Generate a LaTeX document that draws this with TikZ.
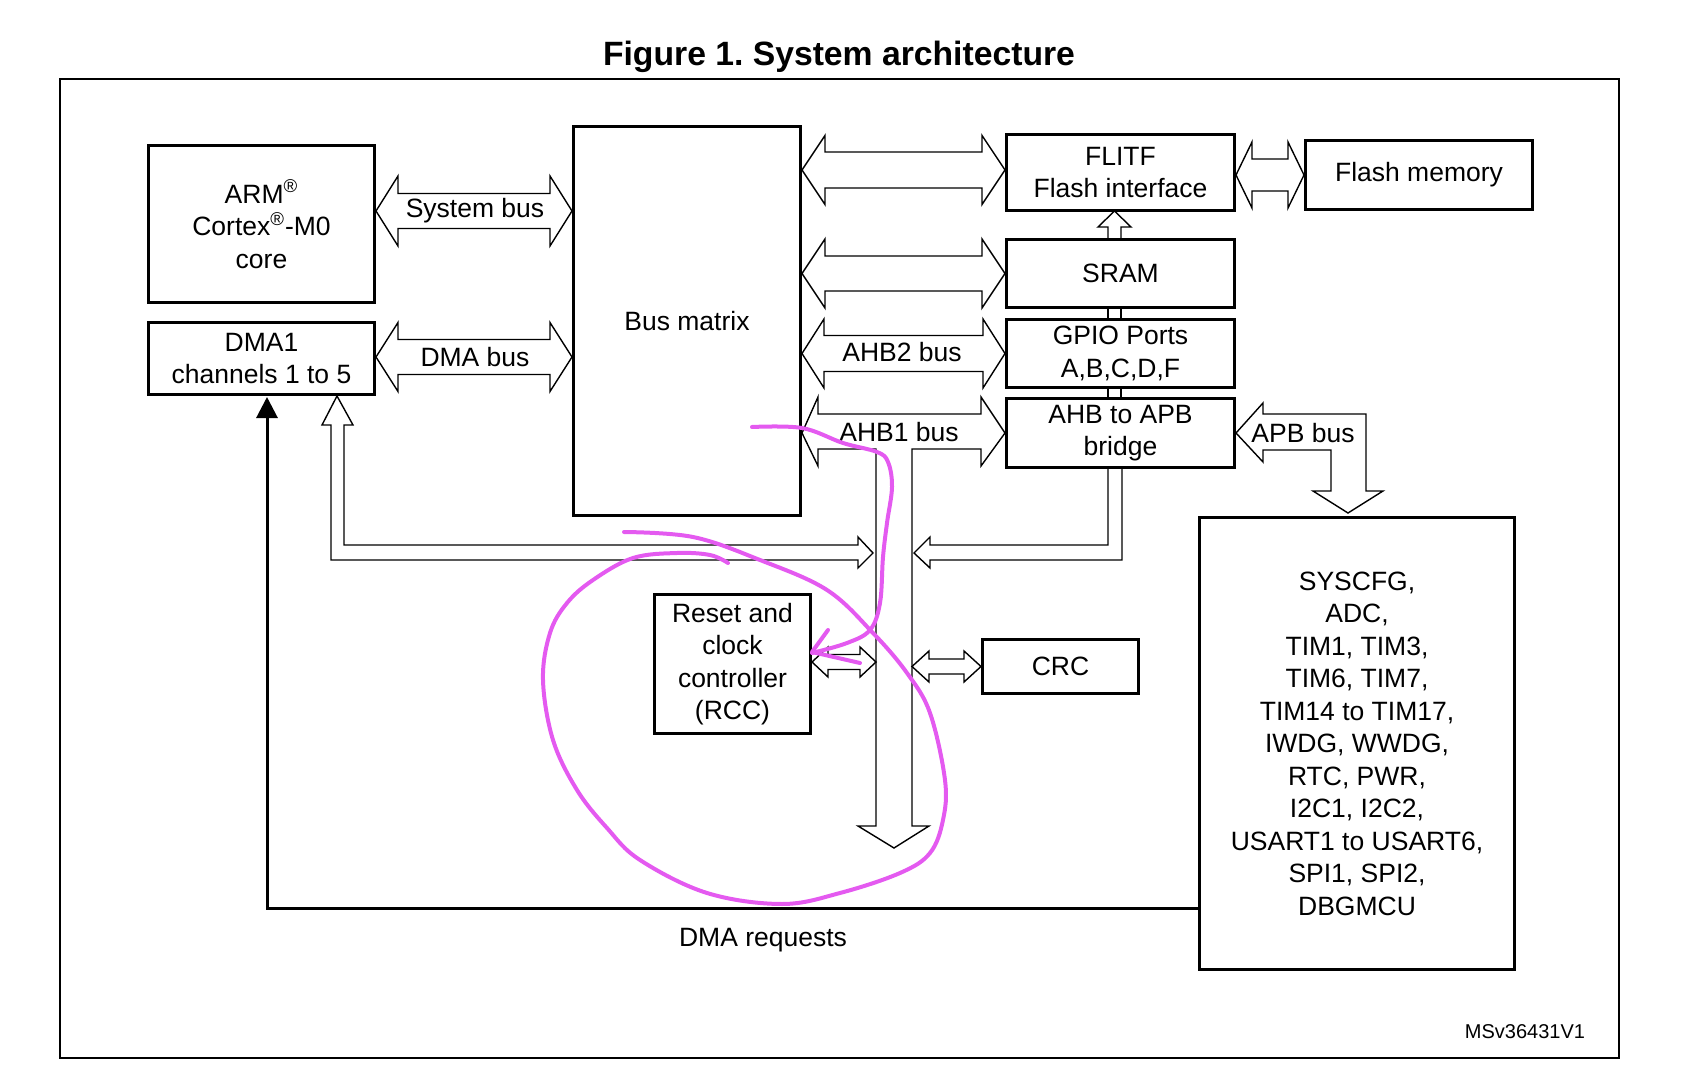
\documentclass[tikz,border=0pt]{standalone}
\usepackage{fontspec}
\setmainfont{Liberation Sans}
\usetikzlibrary{calc,arrows.meta}
\definecolor{annot}{RGB}{228,90,240}
\frenchspacing
\newcommand{\mainfs}{\fontsize{13.25pt}{16.25pt}\selectfont}
\newcommand{\bx}[6]{\node[box, anchor=north west, minimum width={(#4-#2)*0.5pt}, minimum height={(#5-#3)*0.5pt}] (#1) at (#2,#3) {#6};}
\newcommand{\hbus}[5]{%
 \draw[bus] let \p1=(#1), \p2=(#2) in
 (\p1) -- ({\x1+#5*0.5pt},{\y1+#4*0.5pt}) -- ({\x1+#5*0.5pt},{\y1+#3*0.5pt})
 -- ({\x2-#5*0.5pt},{\y1+#3*0.5pt}) -- ({\x2-#5*0.5pt},{\y1+#4*0.5pt}) -- (\x2,\y1)
 -- ({\x2-#5*0.5pt},{\y1-#4*0.5pt}) -- ({\x2-#5*0.5pt},{\y1-#3*0.5pt})
 -- ({\x1+#5*0.5pt},{\y1-#3*0.5pt}) -- ({\x1+#5*0.5pt},{\y1-#4*0.5pt}) -- cycle;}
\begin{document}
\begin{tikzpicture}[x=0.5pt,y=-0.5pt,
  box/.style={draw, line width=1.5pt, align=center, inner sep=0pt, font=\mainfs},
  bus/.style={draw, line width=0.7pt, line join=miter},
  lbl/.style={font=\mainfs, inner sep=0pt},
  req/.style={draw, line width=1.5pt},
  annotline/.style={draw=annot, line width=2pt, line cap=round, line join=round}]
\useasboundingbox (0,0) rectangle (1694,1086);
% title and frame
\node[font=\bfseries\fontsize{16.85pt}{20pt}\selectfont, inner sep=0pt] (title) at (839,57) {Figure 1. System architecture};
\draw[line width=0.8pt] (60,79) rectangle (1619,1058);
% boxes
\bx{arm}{147}{144}{373}{301}{ARM\textsuperscript{®}\\Cortex\textsuperscript{®}-M0\\core}
\bx{dma}{147}{321}{373}{393}{DMA1\\channels 1 to 5}
\bx{bm}{572}{125}{799}{514}{Bus matrix}
\bx{flitf}{1005}{133}{1233}{209}{FLITF\\Flash interface}
\bx{sram}{1005}{238}{1233}{306}{SRAM}
\bx{gpio}{1005}{318}{1233}{386}{GPIO Ports\\A,B,C,D,F}
\bx{bridge}{1005}{397}{1233}{466}{AHB to APB\\bridge}
\bx{flash}{1304}{139}{1531}{208}{Flash memory}
\bx{rcc}{653}{593}{809}{732}{Reset and\\clock\\controller\\(RCC)}
\bx{crc}{981}{638}{1137}{692}{CRC}
\bx{periph}{1198}{516}{1513}{968}{SYSCFG,\\ADC,\\TIM1, TIM3,\\TIM6, TIM7,\\TIM14 to TIM17,\\IWDG, WWDG,\\RTC, PWR,\\I2C1, I2C2,\\USART1 to USART6,\\SPI1, SPI2,\\DBGMCU}
% reference coordinates
\coordinate (ySB) at (0,211);
\coordinate (yDB) at (0,357);
\coordinate (yTop) at (0,170);
\coordinate (yRC) at (0,662);
\coordinate (busL) at (876,449);
\coordinate (busR) at (912,449);
\coordinate (dr) at (267,908);
% horizontal double bus arrows
\hbus{arm.east |- ySB}{bm.west |- ySB}{17.5}{35}{22}
\hbus{dma.east |- yDB}{bm.west |- yDB}{17.5}{34.5}{22}
\hbus{bm.east |- yTop}{flitf.west |- yTop}{18}{34.5}{23}
\hbus{bm.east |- sram.west}{sram.west}{17.5}{34.5}{23}
\hbus{bm.east |- gpio.west}{gpio.west}{18}{34.5}{22}
\hbus{flitf.east |- flash.west}{flash.west}{16}{33}{16}
\hbus{rcc.east |- yRC}{busL |- yRC}{7.5}{15}{16}
\hbus{busR |- crc.west}{crc.west}{7.5}{15.5}{17}
% AHB1 bus with the vertical peripheral bus
\draw[bus] (bm.east |- bridge.west) -- (818,397) -- (818,414) -- (981,414) -- (981,397) -- (bridge.west)
  -- (981,466) -- (981,449) -- (busR) -- (912,826) -- (929,826) -- (894,848) -- (858,826)
  -- (876,826) -- (busL) -- (818,449) -- (818,466) -- cycle;
% DMA hollow arrow to the bus
\draw[bus] (337,396) -- (353,425) -- (344,425) -- (344,545) -- (858,545) -- (858,537) -- (873,553)
  -- (858,568) -- (858,560) -- (331,560) -- (331,425) -- (322,425) -- cycle;
% bridge to bus
\draw[bus] (1108,466) -- (1108,545) -- (930,545) -- (930,537) -- (914,553) -- (930,568) -- (930,560) -- (1122,560) -- (1122,466);
% SRAM to FLITF and links
\draw[bus] (1108,238) -- (1108,227) -- (1098,227) -- (1114.5,211) -- (1131,227) -- (1121,227) -- (1121,238);
\draw[bus] (1108,306) -- (1108,318) (1121,306) -- (1121,318);
\draw[bus] (1108,386) -- (1108,397) (1121,386) -- (1121,397);
% APB bus
\draw[bus] (bridge.east) -- (1263,403) -- (1263,414) -- (1366,414) -- (1366,491) -- (1383,491) -- (1348,513)
  -- (1313,491) -- (1331,491) -- (1331,450) -- (1263,450) -- (1263,462) -- cycle;
% DMA requests
\draw[req, -{Triangle[length=10.5pt, width=10.5pt]}] (periph.west |- dr) -- (dr) -- (267,397);
% labels
\node[lbl] (lsb) at (475,211) {System bus};
\node[lbl] (ldb) at (475,357) {DMA bus};
\node[lbl] (lahb2) at (902,352) {AHB2 bus};
\node[lbl] (lahb1) at (899,432) {AHB1 bus};
\node[lbl] (lapb) at (1303,433) {APB bus};
\node[lbl] (lreq) at (763,940) {DMA requests};
\node[font=\fontsize{10pt}{12pt}\selectfont, inner sep=0pt] (msv) at (1525,1032) {MSv36431V1};
% hand-drawn annotation
\draw[annotline] plot[smooth, tension=0.6] coordinates {(752,427) (802,428) (843,443) (877,452) (888,462) (892,487) (887,523) (883,557) (880,603) (870,630) (847,643) (812,653)};
\draw[annotline] (828,630) -- (812,652) -- (860,663);
\draw[annotline] plot[smooth, tension=0.6] coordinates {(624,532) (693,537) (760,560) (827,590) (873,633) (907,673) (930,713) (945,780) (943,820) (930,853) (900,873) (840,893) (782,904) (707,893) (640,860) (607,828) (577,790) (553,740) (543,680) (550,633) (567,603) (593,580) (633,558) (677,553) (710,555) (728,563)};
\end{tikzpicture}
\end{document}
